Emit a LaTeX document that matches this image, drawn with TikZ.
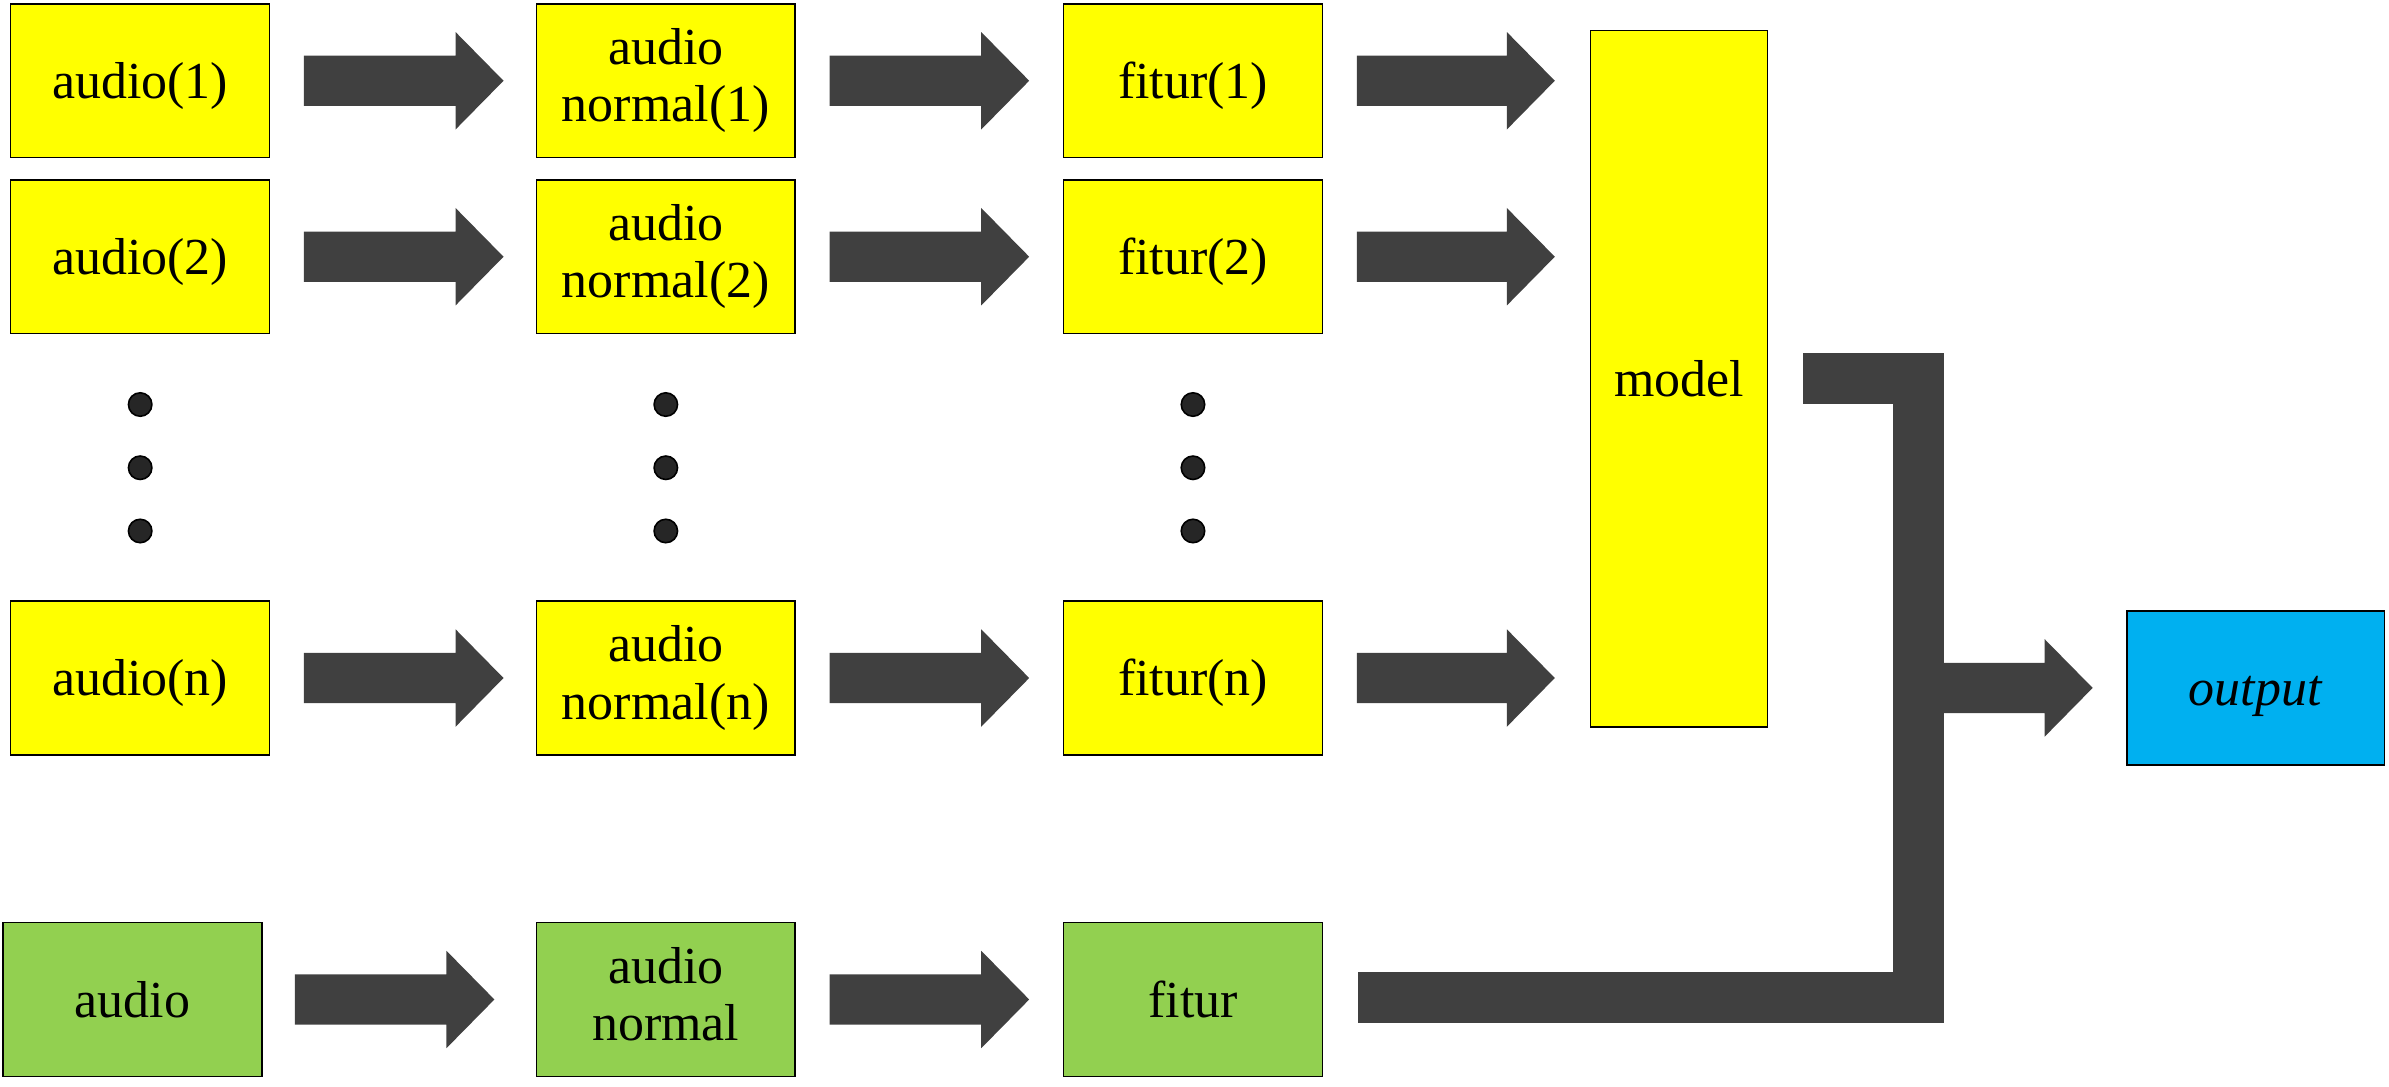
\documentclass[tikz,border=0pt]{standalone}
\usepackage{fontspec}
\setmainfont{Liberation Serif}
\usetikzlibrary{calc}
\definecolor{cYellow}{HTML}{FFFF00}
\definecolor{cGreen}{HTML}{92D050}
\definecolor{cBlue}{HTML}{00B0F0}
\definecolor{cArrow}{HTML}{404040}
\definecolor{cDot}{HTML}{262626}
\newcommand{\blockarrow}[2]{%
  \fill[cArrow] let \p1=#1, \p2=#2 in
    (\x1,{\y1+0.33cm}) -- ({\x2-0.63cm},{\y1+0.33cm}) -- ({\x2-0.63cm},{\y1+0.64cm})
    -- (\x2,\y1) -- ({\x2-0.63cm},{\y1-0.64cm}) -- ({\x2-0.63cm},{\y1-0.33cm})
    -- (\x1,{\y1-0.33cm}) -- cycle;}
\newcommand{\pptstrut}{\rule[-0.216em]{0pt}{1.107em}}
\tikzset{
  box/.style={draw=black, line width=0.6pt, inner sep=0pt, align=center,
    font=\fontsize{19.4}{21.5}\selectfont, minimum width=3.4cm, minimum height=2.02cm,
    execute at begin node=\pptstrut, execute at end node=\pptstrut},
  yellowbox/.style={box, fill=cYellow},
  greenbox/.style={box, fill=cGreen},
  bluebox/.style={box, fill=cBlue},
  dotnode/.style={circle, draw=black, line width=0.6pt, fill=cDot, inner sep=0pt, minimum size=0.308cm},
}
\begin{document}
\begin{tikzpicture}[x=0.02cm, y=-0.02cm]
\useasboundingbox (0,0) rectangle (1568,713.4);
% row 1
\node[yellowbox] (a1) at (92,53) {audio(1)};
\node[yellowbox] (n1) at (437,53) {audio\\normal(1)};
\node[yellowbox] (f1) at (783,53) {fitur(1)};
% row 2
\node[yellowbox] (a2) at (92,168.5) {audio(2)};
\node[yellowbox] (n2) at (437,168.5) {audio\\normal(2)};
\node[yellowbox] (f2) at (783,168.5) {fitur(2)};
% row n
\node[yellowbox] (an) at (92,445) {audio(n)};
\node[yellowbox] (nn) at (437,445) {audio\\normal(n)};
\node[yellowbox] (fn) at (783,445) {fitur(n)};
% green row
\node[greenbox] (ag) at (87,656) {audio};
\node[greenbox] (ng) at (437,656) {audio\\normal};
\node[greenbox] (fg) at (783,656) {fitur};
% model and output
\node[yellowbox, minimum width=2.32cm, minimum height=9.14cm] (model) at (1102,248.5) {model};
\node[bluebox, minimum width=3.38cm] (out) at (1480.5,451.5) {\textit{output}};
% dots
\foreach \cx/\col in {92/1,437/2,783/3}{
  \node[dotnode] (d\col a) at (\cx,265.5) {};
  \node[dotnode] (d\col b) at (\cx,307) {};
  \node[dotnode] (d\col c) at (\cx,348.5) {};
}
% arrows
\blockarrow{($(a1.east)+(22,0)$)}{($(n1.west)+(-21,0)$)}
\blockarrow{($(n1.east)+(22,0)$)}{($(f1.west)+(-22,0)$)}
\blockarrow{($(f1.east)+(22,0)$)}{($(f1.east -| model.west)+(-23,0)$)}
\blockarrow{($(a2.east)+(22,0)$)}{($(n2.west)+(-21,0)$)}
\blockarrow{($(n2.east)+(22,0)$)}{($(f2.west)+(-22,0)$)}
\blockarrow{($(f2.east)+(22,0)$)}{($(f2.east -| model.west)+(-23,0)$)}
\blockarrow{($(an.east)+(22,0)$)}{($(nn.west)+(-21,0)$)}
\blockarrow{($(nn.east)+(22,0)$)}{($(fn.west)+(-22,0)$)}
\blockarrow{($(fn.east)+(22,0)$)}{($(fn.east -| model.west)+(-23,0)$)}
\blockarrow{($(ag.east)+(21,0)$)}{($(ng.west)+(-27,0)$)}
\blockarrow{($(ng.east)+(22,0)$)}{($(fg.west)+(-22,0)$)}
% bus
\coordinate (busx) at (1259.25,0);
\coordinate (mstart) at ($(model.east)+(23,0)$);
\coordinate (gstart) at ($(fg.east)+(23,-1.5)$);
\draw[cArrow, line width=0.67cm, line join=miter] (mstart) -- (mstart -| busx) -- (gstart -| busx) -- (gstart);
\blockarrow{(busx |- out.west)}{($(out.west)+(-22,0)$)}
\end{tikzpicture}
\end{document}
